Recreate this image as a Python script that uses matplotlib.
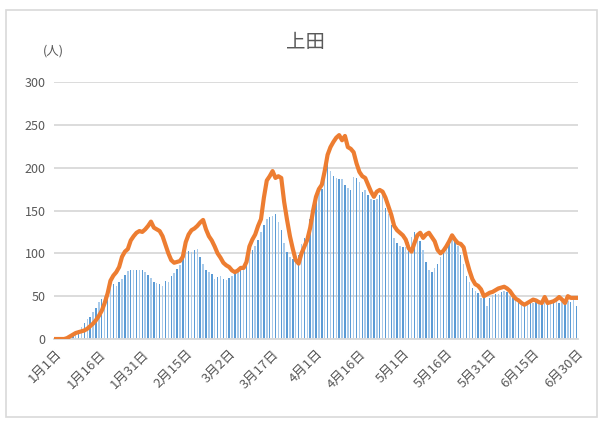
import matplotlib
matplotlib.use("Agg")
import matplotlib.pyplot as plt
import numpy as np
from matplotlib.patches import Rectangle

plt.rcParams['font.family'] = ['Noto Sans CJK JP', 'DejaVu Sans']

# 日別の人数（棒）と推移（線）、1月1日〜6月30日
daily = [
    0, 0, 0, 1, 2, 3, 4, 7, 10, 14,
    19, 23, 26, 31, 36, 43, 47, 50, 58, 63,
    64, 62, 66, 70, 75, 79, 80, 81, 81, 80,
    81, 78, 75, 71, 67, 65, 64, 62, 68, 67,
    74, 77, 82, 86, 95, 105, 103, 102, 104, 105,
    96, 87, 80, 78, 76, 70, 72, 73, 70, 69,
    71, 74, 79, 82, 84, 86, 93, 100, 104, 108,
    116, 125, 133, 140, 142, 143, 146, 137, 127, 112,
    101, 96, 93, 95, 98, 111, 118, 124, 140, 156,
    162, 170, 175, 186, 207, 196, 190, 188, 187, 187,
    180, 176, 174, 189, 188, 183, 172, 174, 168, 164,
    162, 164, 168, 170, 153, 146, 133, 118, 112, 109,
    107, 107, 113, 119, 125, 121, 114, 104, 90, 80,
    78, 83, 88, 96, 102, 110, 117, 118, 116, 108,
    98, 88, 74, 66, 60, 56, 54, 48, 49, 38,
    48, 51, 52, 53, 55, 56, 55, 50, 48, 48,
    46, 41, 40, 42, 43, 42, 44, 42, 41, 43,
    42, 44, 43, 44, 42, 43, 46, 44, 43, 45,
    39,
]

trend = [
    0, 0, 0, 0, 1, 3, 5, 7, 8, 9,
    10, 12, 15, 18, 22, 27, 33, 42, 53, 68,
    74, 78, 84, 96, 102, 105, 115, 120, 124, 126,
    125, 128, 132, 137, 130, 128, 126, 120, 110, 100,
    92, 89, 90, 91, 96, 113, 122, 127, 129, 132,
    136, 139, 128, 120, 115, 108, 100, 95, 89, 86,
    84, 80, 78, 80, 83, 83, 90, 108, 116, 122,
    132, 140, 165, 185, 190, 196, 188, 190, 188, 160,
    139, 120, 105, 92, 88, 100, 108, 116, 130, 150,
    166, 175, 180, 196, 215, 224, 230, 235, 238, 232,
    237, 224, 222, 218, 205, 195, 190, 188, 180, 172,
    166, 172, 174, 172, 165, 155, 145, 132, 127, 124,
    121, 116, 106, 102, 112, 121, 124, 118, 122, 124,
    119, 114, 104, 100, 103, 108, 114, 121, 116, 112,
    111, 107, 92, 80, 70, 64, 62, 58, 50, 52,
    54, 55, 57, 59, 60, 61, 59, 56, 51, 47,
    45, 42, 40, 42, 44, 46, 45, 43, 42, 49,
    42, 43, 44, 46, 49, 46, 42, 50, 48, 48,
    48,
]

tick_days = [0, 15, 30, 45, 60, 75, 90, 105, 120, 135, 150, 165, 180]
tick_labels = ['1月1日', '1月16日', '1月31日', '2月15日', '3月2日', '3月17日', '4月1日',
               '4月16日', '5月1日', '5月16日', '5月31日', '6月15日', '6月30日']

TEXT = '#595959'
GRID = '#D9D9D9'

fig = plt.figure(figsize=(6.03, 4.22), dpi=100)
fig.patches.append(Rectangle((6 / 603, 5 / 422), 591 / 603, 407 / 422, transform=fig.transFigure,
                             fill=False, edgecolor=GRID, linewidth=1.2))

ax = fig.add_axes([54 / 603, 83 / 422, 524 / 603, 257 / 422])

x = np.arange(len(daily))
colors = ['#5B9BD5' if i % 2 == 0 else '#A9CBEB' for i in x]
ax.bar(x, daily, width=0.5, color=colors, zorder=2)
ax.plot(x, trend, color='#ED7D31', linewidth=3.0, solid_joinstyle='round', zorder=3)

ax.set_xlim(-0.5, 180.5)
ax.set_ylim(0, 300)
ax.set_yticks(range(0, 301, 50))
ax.yaxis.grid(True, color=GRID, linewidth=1.3, zorder=0)
ax.set_axisbelow(True)
for side in ['top', 'right', 'left']:
    ax.spines[side].set_visible(False)
ax.spines['bottom'].set_color(GRID)
ax.spines['bottom'].set_linewidth(1.3)

ax.set_xticks(tick_days)
ax.set_xticklabels(tick_labels, rotation=45, ha='right', rotation_mode='anchor')
ax.tick_params(axis='both', length=0, colors=TEXT, labelsize=9.5)
ax.tick_params(axis='x', pad=6)
ax.tick_params(axis='y', pad=6, labelsize=9)

fig.text(0.506, 0.9, '上田', ha='center', va='center', fontsize=14, color=TEXT)
fig.text(0.088, 0.88, '(人)', ha='center', va='center', fontsize=9, color=TEXT)

fig.savefig('out.png', dpi=100)
